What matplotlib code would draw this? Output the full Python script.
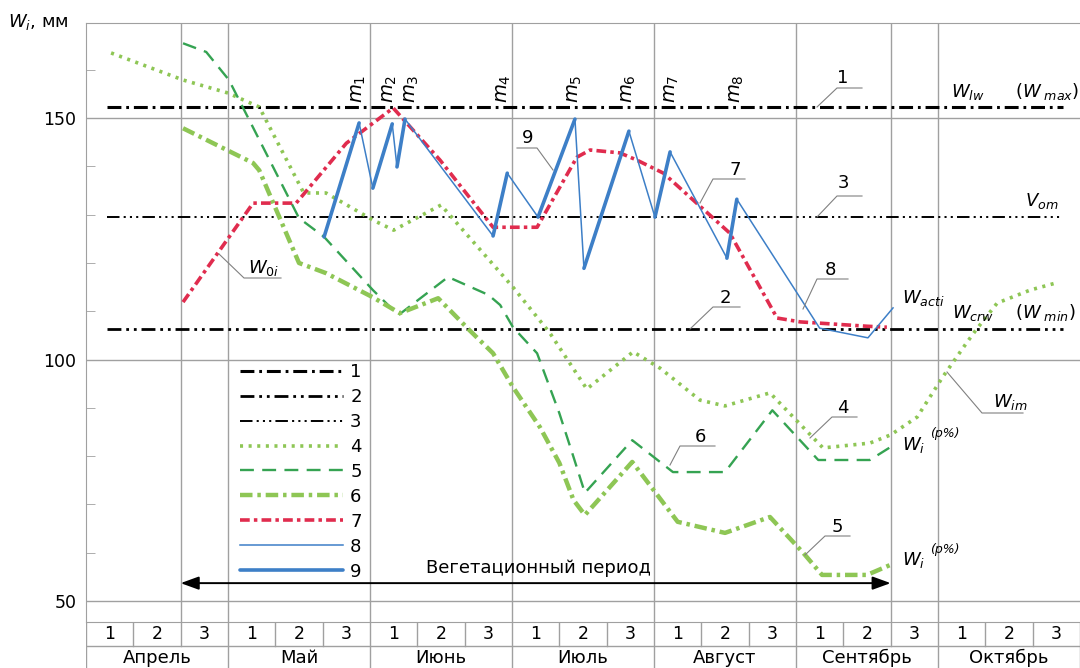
import matplotlib
matplotlib.use('Agg')
import matplotlib.pyplot as plt
from matplotlib.lines import Line2D
import numpy as np

plt.rcParams['font.family'] = ['DejaVu Sans']
plt.rcParams['mathtext.fontset'] = 'dejavusans'
plt.rcParams['lines.scale_dashes'] = False

# x axis is counted in decades (10-day periods) from the 1st of April
months = ['Апрель', 'Май', 'Июнь', 'Июль', 'Август', 'Сентябрь', 'Октябрь']
decades = ['1', '2', '3']

# reference levels, mm
W_lw = 152.3
V_om = 129.5
W_crw = 106.3
ref_span = [0.45, 20.65]

# 4 - dotted light green
w4_x = [0.53, 2.05, 3.0, 3.66, 4.6, 5.07, 6.06, 6.5, 7.5, 9.02, 9.8, 10.58, 11.56, 12.13,
        12.97, 13.5, 14.45, 15.57, 16.56, 17.0, 17.56, 18.1, 18.6, 18.8, 19.25, 19.95, 20.47]
w4_y = [163.5, 157.9, 155.2, 152.3, 134.5, 134.5, 128.9, 126.8, 132.0, 115.0, 105.5, 93.9, 101.6, 98.2,
        91.6, 90.4, 93.1, 81.7, 82.7, 84.4, 88.1, 96.4, 103.4, 106.1, 111.7, 114.4, 115.8]

# 5 - dashed dark green
w5_x = [2.05, 2.54, 3.02, 4.5, 5.03, 6.06, 6.6, 7.65, 8.5, 8.75, 9.02, 9.53, 10.0, 10.3, 10.54,
        11.54, 12.4, 13.5, 14.5, 15.47, 16.56, 17.0]
w5_y = [165.5, 163.7, 157.9, 129.3, 125.4, 114.4, 109.2, 117.1, 113.4, 111.3, 106.7, 101.3, 88.9, 79.8, 72.4,
        83.3, 76.7, 76.7, 89.5, 79.2, 79.2, 81.9]

# 6 - thick dash-dot light green
w6_x = [2.05, 3.53, 3.66, 4.5, 5.07, 6.06, 6.63, 7.44, 8.1, 8.6, 9.02, 9.59, 10.0, 10.3, 10.54,
        11.54, 12.5, 13.5, 14.45, 15.15, 15.55, 16.5, 17.0]
w6_y = [147.9, 140.7, 139.2, 120.0, 117.9, 112.9, 109.6, 112.7, 106.1, 101.3, 94.3, 86.0, 78.6, 70.9, 67.8,
        78.8, 66.4, 64.1, 67.4, 60.0, 55.4, 55.4, 57.5]

# 7 - red dash-dot (W0i)
w7_x = [2.05, 3.53, 4.44, 5.5, 6.34, 6.49, 7.48, 8.6, 9.53, 10.37, 10.65, 11.28, 11.64, 12.2,
        12.9, 13.6, 14.6, 15.09, 16.5, 16.92]
w7_y = [111.9, 132.4, 132.4, 144.8, 151.0, 152.1, 141.3, 127.4, 127.4, 141.9, 143.4, 142.8, 141.3, 138.6,
        132.4, 126.2, 108.6, 107.8, 106.9, 106.7]

# 8/9 - blue actual moisture, irrigations m1..m8 are the rising segments
blue_x = [5.03, 5.77, 6.06, 6.47, 6.57, 6.74, 8.60, 8.90, 9.55, 10.33, 10.52, 11.47, 12.02, 12.34,
          13.54, 13.75, 15.50, 16.52, 17.05]
blue_y = [125.4, 149.0, 135.5, 148.8, 139.9, 149.8, 125.6, 138.6, 129.5, 149.8, 118.9, 147.3, 129.5, 143.0,
          121.0, 133.2, 106.5, 104.5, 110.7]
irr_start = [0, 2, 4, 6, 8, 10, 12, 14]

veg_period = [2, 17]

LG = '#8ec655'
DG = '#35a352'
RED = '#e02c4e'
BLUE = '#3d7fc7'
GRID = '#a0a0a0'

W, H = 1080, 668
fig = plt.figure(figsize=(W / 100, H / 100), dpi=100)


def P(x, y):
    return (x / W, 1 - y / H)


ax = fig.add_axes([86 / W, 46 / H, 994 / W, 599 / H])
ax.set_xlim(0, 21)
ax.set_ylim(45.65, 169.7)

for s in ['top', 'left', 'bottom']:
    ax.spines[s].set_color(GRID)
ax.spines['right'].set_visible(False)
ax.set_xticks([])
ax.set_yticks([50, 100, 150])
ax.set_yticks([v for v in range(60, 170, 10) if v not in (100, 150)], minor=True)
ax.tick_params(axis='y', which='major', length=0, pad=7, labelsize=12.5)
ax.tick_params(axis='y', which='minor', direction='in', length=6.5, color=GRID)

for v in [50, 100, 150]:
    ax.axhline(v, color=GRID, lw=1, zorder=1)
for d in [2, 3, 6, 9, 12, 15, 17, 18]:
    ax.axvline(d, color=GRID, lw=1, zorder=1)

l1, = ax.plot(ref_span, [W_lw, W_lw], color='black', lw=2.2, dashes=(10, 3.5, 2, 3.5), zorder=3)
l2, = ax.plot(ref_span, [W_crw, W_crw], color='black', lw=2.0, dashes=(10, 3.5, 2, 3.5, 2, 3.5), zorder=3)
l3, = ax.plot(ref_span, [V_om, V_om], color='black', lw=1.4, dashes=(9, 3, 1.5, 3, 1.5, 3, 1.5, 3), zorder=3)

l4, = ax.plot(w4_x, w4_y, color=LG, lw=2.6, dashes=(2.2, 4.0), dash_capstyle='butt', zorder=4)
l5, = ax.plot(w5_x, w5_y, color=DG, lw=1.7, dashes=(10, 6), zorder=4)
l6, = ax.plot(w6_x, w6_y, color=LG, lw=3.2, dashes=(9, 3.5, 2.5, 3.5), zorder=4)
l7, = ax.plot(w7_x, w7_y, color=RED, lw=2.6, dashes=(7, 3, 2.5, 3), zorder=5)

l8, = ax.plot(blue_x, blue_y, color=BLUE, lw=1.1, zorder=6)
thick_x, thick_y = [], []
for i in irr_start:
    thick_x += [blue_x[i], blue_x[i + 1], np.nan]
    thick_y += [blue_y[i], blue_y[i + 1], np.nan]
l9, = ax.plot(thick_x, thick_y, color=BLUE, lw=2.6, solid_capstyle='round', zorder=6)

# irrigation labels sit above the peaks; m2/m3 are nudged apart
m_dx = [-0.02, -0.05, 0.13, -0.08, 0.0, 0.0, 0.03, 0.0]
for k, i in enumerate(irr_start):
    ax.text(blue_x[i + 1] + m_dx[k], 153.1, f'$m_{{{k + 1}}}$', rotation=90, ha='center', va='bottom',
            fontsize=14)

ax.annotate('', xy=(veg_period[1], 53.7), xytext=(veg_period[0], 53.7),
            arrowprops=dict(arrowstyle='<|-|>,head_length=0.55,head_width=0.2', color='black',
                            lw=1.4, mutation_scale=20, shrinkA=0, shrinkB=0))
ax.text(sum(veg_period) / 2 + 0.05, 56.8, 'Вегетационный период', ha='center', va='center', fontsize=13)

ax.legend([l1, l2, l3, l4, l5, l6, l7, l8, l9], [str(n) for n in range(1, 10)],
          loc='upper left', bbox_to_anchor=P(240, 363), bbox_transform=fig.transFigure,
          frameon=False, fontsize=13, handlelength=5.7, handletextpad=0.4,
          labelspacing=0.385, borderpad=0, borderaxespad=0)

# table of decades and months
tax = fig.add_axes([86 / W, 0, 994 / W, 46 / H])
tax.set_xlim(0, 21)
tax.set_ylim(2 - 46 / 24, 2)
tax.axis('off')
tax.plot([0, 21], [1, 1], color=GRID, lw=1)
for d in range(22):
    if d % 3 == 0:
        tax.plot([d, d], [0, 2], color=GRID, lw=1)
    else:
        tax.plot([d, d], [1, 2], color=GRID, lw=1)
for m, name in enumerate(months):
    tax.text(3 * m + 1.5, 0.5, name, ha='center', va='center', fontsize=13)
    for k, dn in enumerate(decades):
        tax.text(3 * m + k + 0.5, 1.5, dn, ha='center', va='center', fontsize=12.5)

# axis title
fig.text(*P(8, 22), r'$W_i$, мм', ha='left', va='center', fontsize=13)


def leader(pts):
    xs = [p[0] / W for p in pts]
    ys = [1 - p[1] / H for p in pts]
    fig.add_artist(Line2D(xs, ys, transform=fig.transFigure, color='#808080', lw=0.8, zorder=7))


leader([(817, 107), (837, 88), (862, 88)])
leader([(817, 217), (837, 196), (862, 196)])
leader([(690, 329), (713, 307), (740, 307)])
leader([(700, 203), (713, 179), (745, 179)])
leader([(803, 309), (817, 279), (848, 279)])
leader([(553, 170), (537, 148), (517, 148)])
leader([(670, 465), (680, 446), (715, 446)])
leader([(810, 438), (832, 417), (857, 417)])
leader([(805, 555), (825, 536), (850, 536)])
leader([(219, 254), (244, 278), (281, 278)])
leader([(947, 372), (982, 413), (1023, 413)])

for txt, (cx, cy) in [('1', (843, 78)), ('3', (843, 183)), ('2', (725, 298)), ('7', (735, 170)),
                      ('8', (830, 270)), ('9', (528, 138)), ('6', (700, 437)), ('4', (843, 408)),
                      ('5', (837, 527))]:
    fig.text(*P(cx, cy), txt, ha='center', va='center', fontsize=13)

for txt, (lx, by) in [(r'$W_{lw}$', (951, 97)), (r'$(W_{\ max})$', (1015, 97)), (r'$V_{om}$', (1025, 206)),
                      (r'$W_{acti}$', (902, 303)), (r'$W_{crw}$', (952, 318)), (r'$(W_{\ min})$', (1015, 318)),
                      (r'$W_{0i}$', (248, 273)), (r'$W_{im}$', (993, 407)),
                      (r'$W_i$', (902, 450)), (r'$W_i$', (902, 565))]:
    fig.text(*P(lx, by), txt, ha='left', va='baseline', fontsize=13)

for by in [437, 553]:
    fig.text(*P(930, by), '(p%)', ha='left', va='baseline', fontsize=9, style='italic')

fig.savefig('out.png', dpi=100)
